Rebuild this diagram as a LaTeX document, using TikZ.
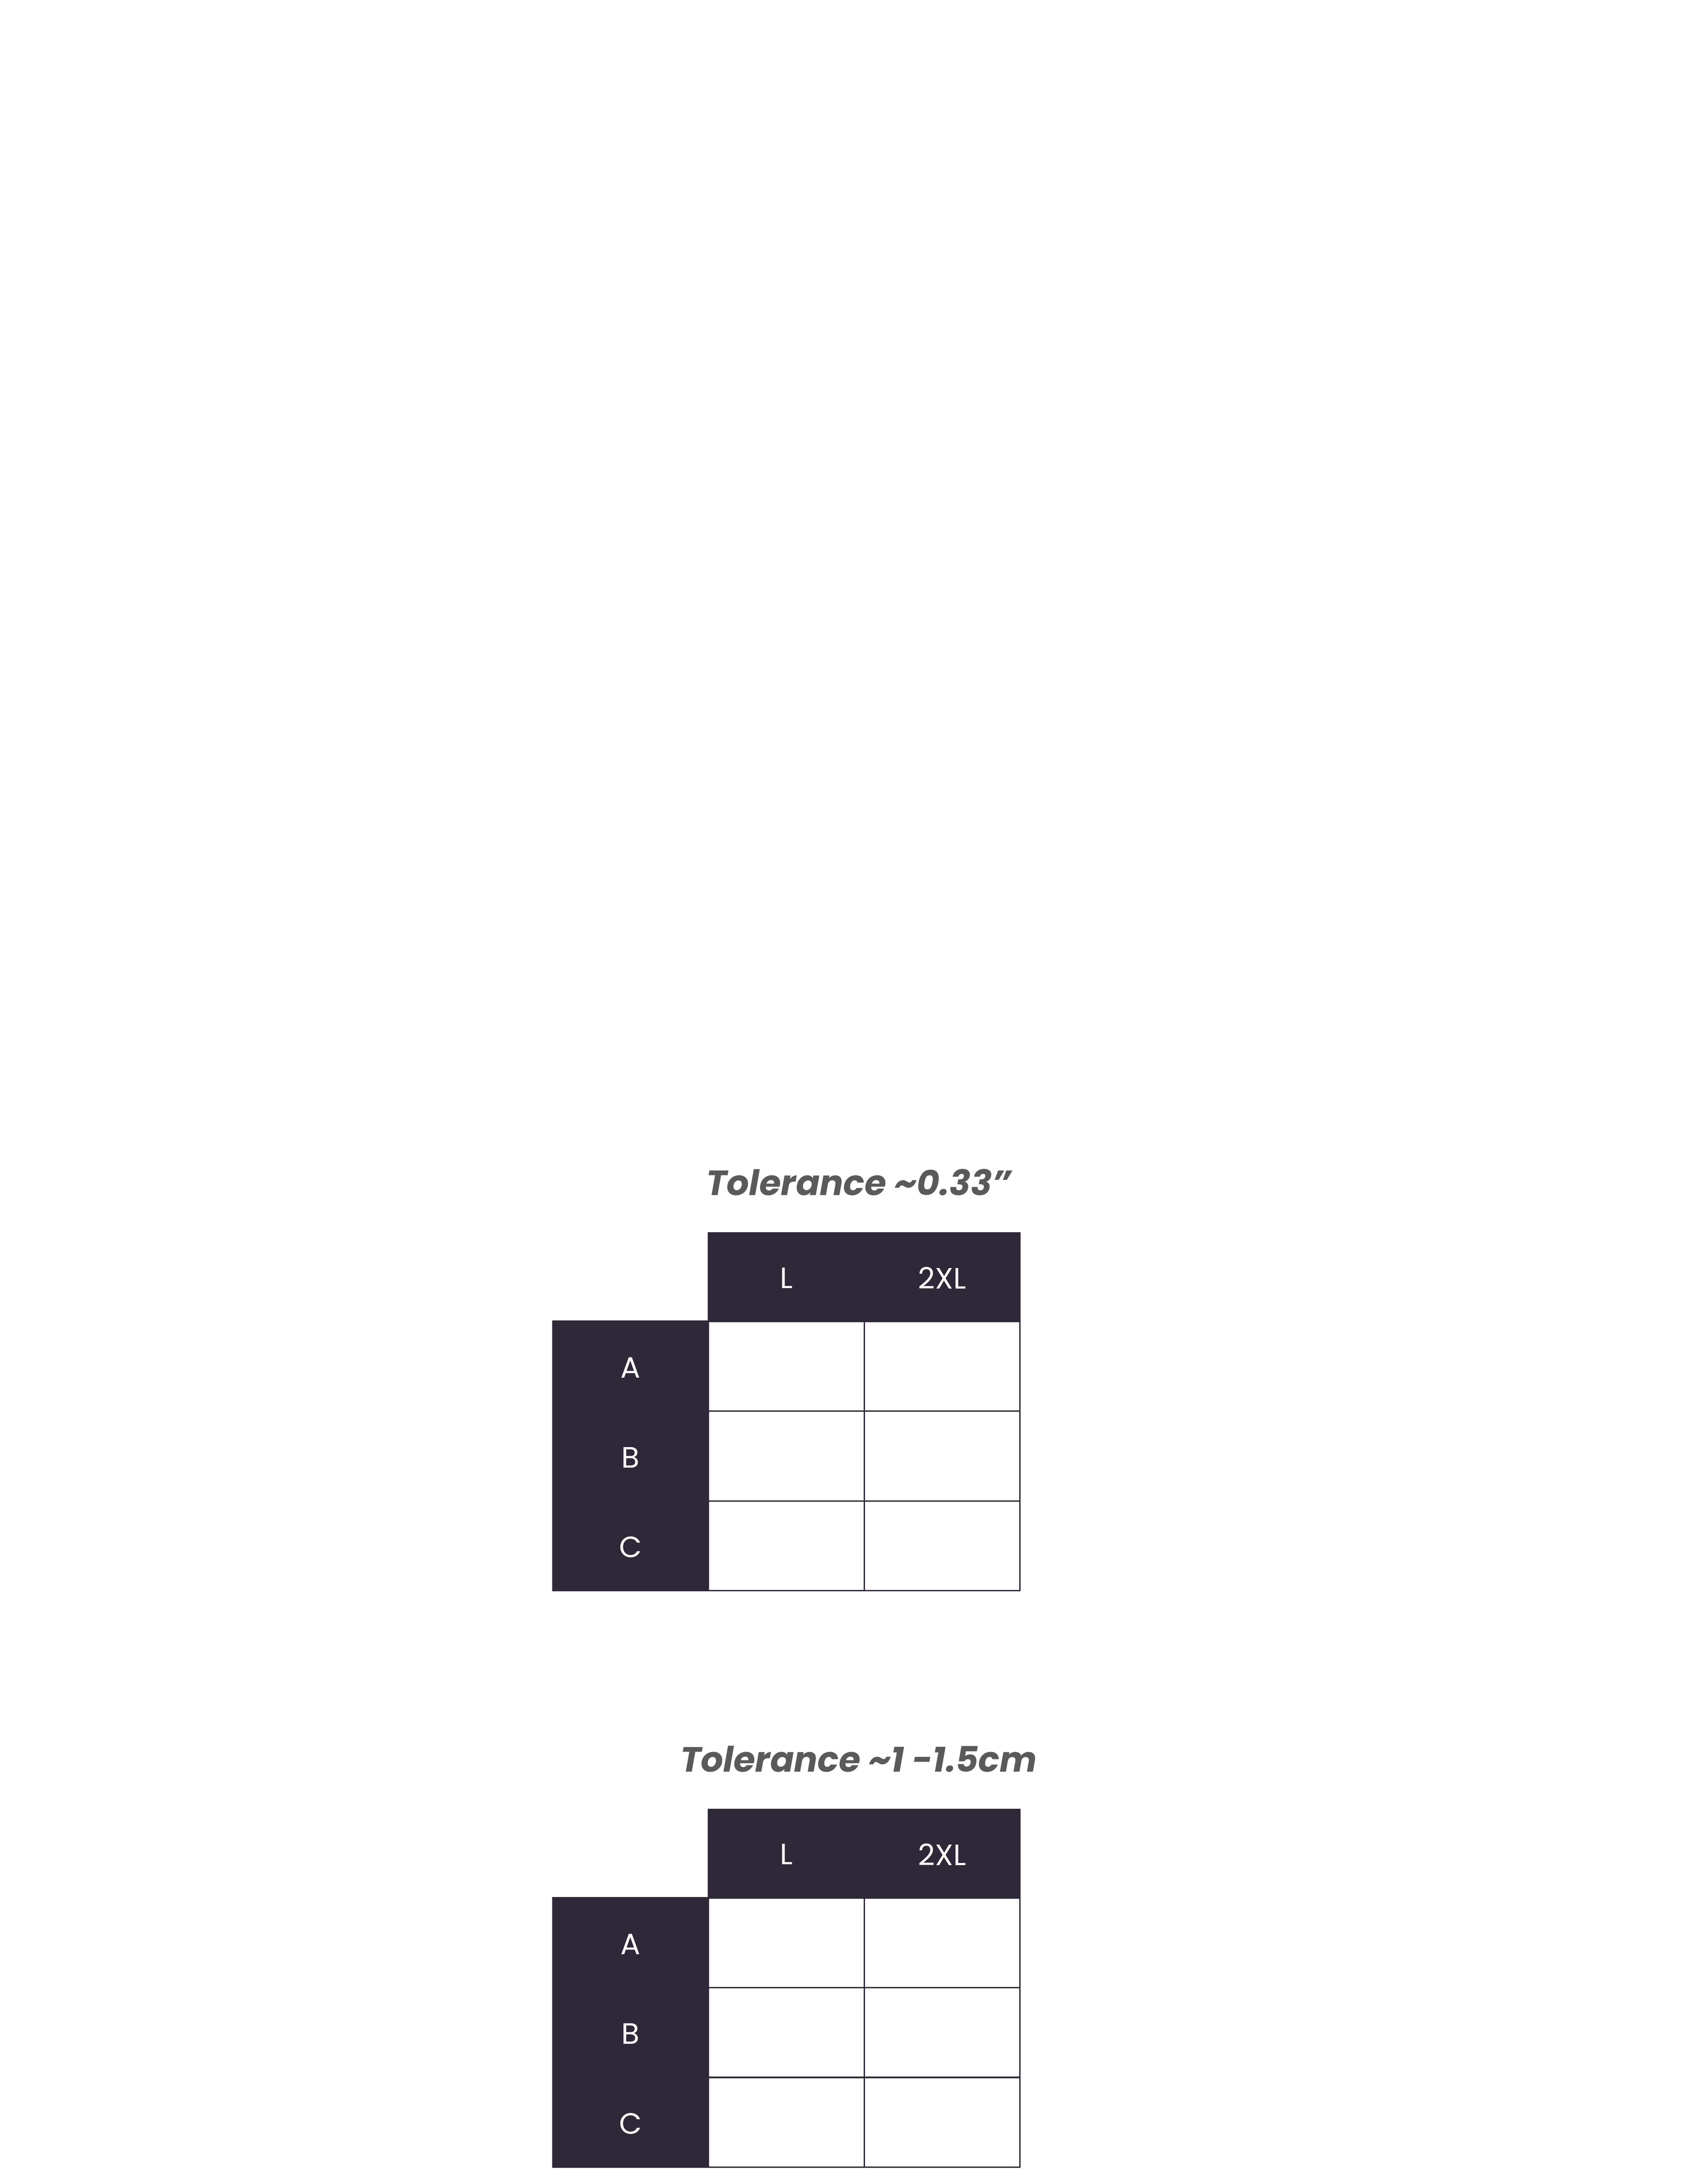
\documentclass[tikz,border=0pt]{standalone}
\usepackage{fontspec}
\setmainfont{Poppins}
\definecolor{dark}{HTML}{2E2838}
\definecolor{ttl}{HTML}{5A5A5A}
\begin{document}
\begin{tikzpicture}[x=1pt,y=-1pt,
  hdr/.style={fill=dark,draw=dark,line width=1pt},
  cell/.style={draw=dark,line width=1pt},
  lbl/.style={text=white,font=\fontsize{21}{21}\selectfont},
  title/.style={text=ttl,font=\fontsize{25}{25}\selectfont\bfseries\itshape}]
\useasboundingbox (0,0) rectangle (1216,1557);
\foreach \t/\y/\txt in {1/879/{Tolerance \textasciitilde0.33”},2/1290/{Tolerance \textasciitilde1 -1.5cm}}{
  \node[title] (title\t) at (612,\y-36) {\txt};
  \fill[hdr] (505,\y) rectangle (727,\y+63);
  \fill[hdr] (394,\y+63) rectangle (505,\y+255);
  \node[lbl] (hL\t) at (560.5,\y+32) {L};
  \node[lbl] (h2\t) at (671.5,\y+32) {2XL};
  \node[lbl] (rA\t) at (449.5,\y+96) {A};
  \node[lbl] (rB\t) at (449.5,\y+160) {B};
  \node[lbl] (rC\t) at (449.5,\y+224) {C};
  \draw[cell] (505,\y+63) rectangle (727,\y+255);
  \draw[cell] (616,\y+63) -- (616,\y+255);
  \draw[cell] (505,\y+127) -- (727,\y+127);
  \draw[cell] (505,\y+191) -- (727,\y+191);
}
\end{tikzpicture}
\end{document}
